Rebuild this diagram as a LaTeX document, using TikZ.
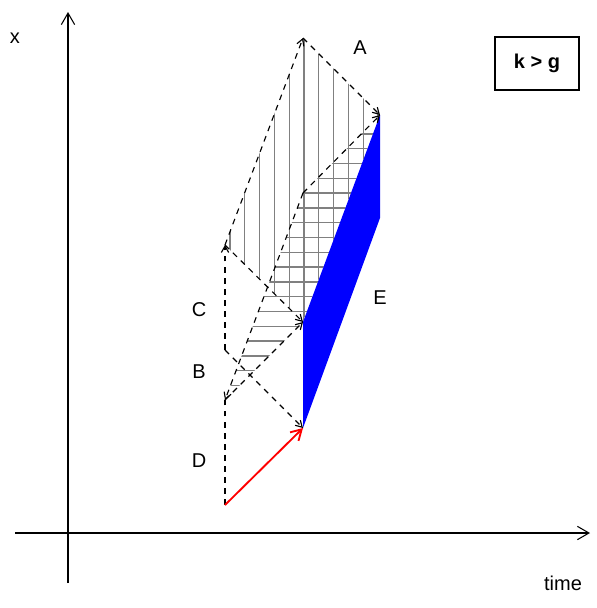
\documentclass[tikz,border=0pt]{standalone}
\usepackage{fontspec}
\setmainfont{Liberation Sans}
\usetikzlibrary{arrows.meta}
\begin{document}
\begin{tikzpicture}[x=0.75pt,y=-0.75pt,
  dsh/.style={draw=black, line width=0.85pt, dash pattern=on 4.3pt off 4pt},
  dsharr/.style={dsh, -{Straight Barb[angle=60:5.5pt]}},
  hatch/.style={draw=black!50, line width=1pt},
  axis/.style={draw=black, line width=0.8pt, -{Straight Barb[angle=60:10pt]}},
  redarr/.style={draw=red, line width=1.4pt, -{Straight Barb[angle=60:9pt]}},
  lbl/.style={font=\fontsize{15}{17}\selectfont, inner sep=0pt},
  kgbox/.style={draw=black, line width=0.8pt, minimum width=63pt, minimum height=39.75pt, font=\fontsize{15}{17}\selectfont\bfseries, inner sep=0pt}
]
\useasboundingbox (0,0) rectangle (597,608);
% key points
\coordinate (D0) at (225,505);
\coordinate (P1) at (303,428);
\coordinate (Q) at (303,322);
\coordinate (R) at (380,115);
\coordinate (S) at (380,218);
\coordinate (Atop) at (303,38);
\coordinate (Aleft) at (225,245);
\coordinate (Btop) at (303,193);
\coordinate (Bleft) at (225,400);
\coordinate (Cb) at (225,350);
% hatching of region A (vertical)
\begin{scope}
  \clip (Aleft) -- (Atop) -- (R) -- (Q) -- cycle;
  \foreach \k in {0,...,10} \draw[hatch] ({230+14.8*\k},30) -- ({230+14.8*\k},330);
\end{scope}
% hatching of region B (horizontal)
\begin{scope}
  \clip (Bleft) -- (Btop) -- (R) -- (Q) -- cycle;
  \foreach \k in {0,...,18} \draw[hatch] (220,{385.5-14.8*\k}) -- (385,{385.5-14.8*\k});
\end{scope}
% blue region E
\fill[blue] (Q) -- (R) -- (S) -- (P1) -- cycle;
% dashed characteristics
\draw[dsh] (D0) -- (Bleft);
\draw[dsharr] (Cb) -- (Aleft);
\draw[dsharr] (Cb) -- (P1);
\draw[dsharr] (Bleft) -- (Q);
\draw[dsharr] (Aleft) -- (Q);
\draw[dsharr] (Aleft) -- (Atop);
\draw[dsharr] (Atop) -- (R);
\draw[dsharr] (Btop) -- (R);
\draw[dsharr] (Btop) -- (Bleft);
% red arrow
\draw[redarr] (D0) -- (P1);
% axes
\coordinate (xo) at (15,533);
\coordinate (xe) at (590,533);
\coordinate (yo) at (68,583);
\coordinate (ye) at (68,12);
\draw[axis] (xo) -- (xe);
\draw[axis] (yo) -- (ye);
% labels
\node[lbl] (lx) at (15,38) {x};
\node[lbl] (ltime) at (563,583) {time};
\node[lbl] (lA) at (360,48) {A};
\node[lbl] (lC) at (199,310) {C};
\node[lbl] (lB) at (199,372) {B};
\node[lbl] (lE) at (380,298) {E};
\node[lbl] (lD) at (199,461) {D};
\node[kgbox] (kg) at (537,63.5) {k > g};
\end{tikzpicture}
\end{document}
